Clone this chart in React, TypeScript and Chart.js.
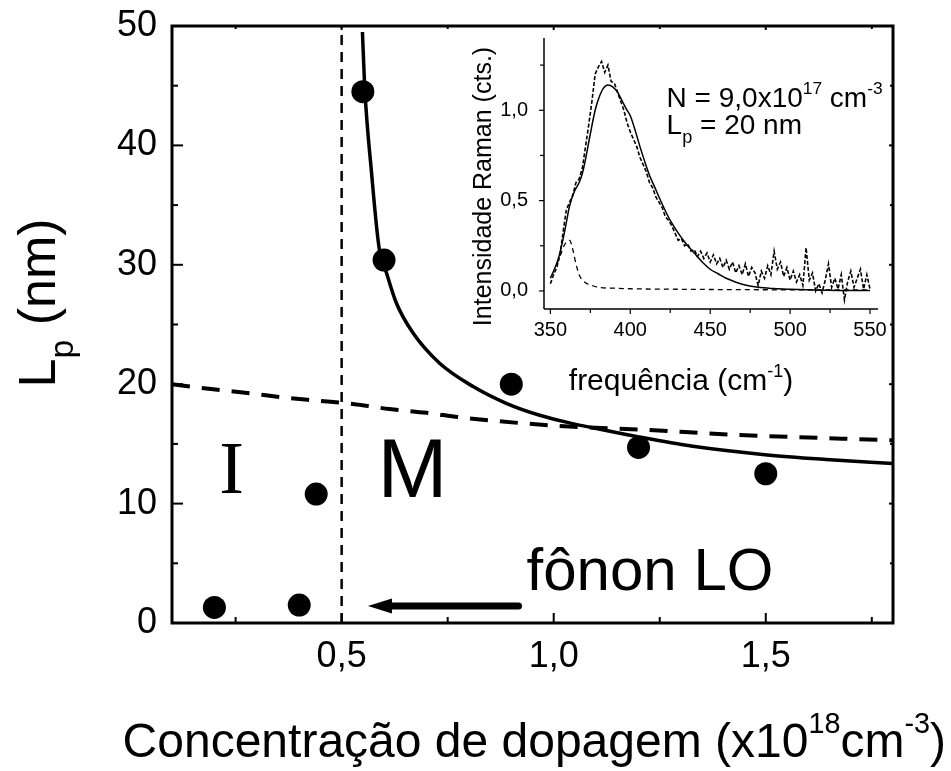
import { useEffect, useRef } from 'react';
import { Chart, registerables } from 'chart.js';

Chart.register(...registerables);

const SANS = '"Liberation Sans", Arial, sans-serif';
const SERIF = '"Liberation Serif", "Times New Roman", serif';

// ---------- Main chart data ----------
const dopingConc = [0.2, 0.4, 0.44, 0.55, 0.6, 0.9, 1.2, 1.5];
const lpValues = [1.3, 1.5, 10.8, 44.5, 30.4, 20.0, 14.7, 12.5];

const fitConc = [0.549, 0.555, 0.57, 0.588, 0.606, 0.629, 0.668, 0.731, 0.81, 0.888, 0.967, 1.045, 1.092, 1.198, 1.328, 1.498, 1.642, 1.8];
const fitLp = [49.5, 44.5, 37.9, 31.5, 29.3, 26.8, 24.3, 21.75, 19.8, 18.4, 17.4, 16.7, 16.35, 15.6, 14.8, 14.1, 13.7, 13.35];

const mottConc = [0.1, 0.197, 0.284, 0.366, 0.449, 0.527, 0.613, 0.7, 0.786, 1.014, 1.202, 1.438, 1.8];
const mottLp = [20.0, 19.57, 19.24, 18.87, 18.6, 18.34, 17.92, 17.6, 17.2, 16.5, 16.2, 15.75, 15.3];

const boundaryConc = [0.5, 0.5];
const boundaryLp = [0, 50];

const xTickValues = [0.5, 1.0, 1.5];
const xMinorValues = [0.25, 0.75, 1.25, 1.75];
const yTickValues = [0, 10, 20, 30, 40, 50];
const yMinorValues = [5, 15, 25, 35, 45];

// annotations (data units)
const arrowFrom = [0.917, 1.42];
const arrowTo = [0.562, 1.42];
const labelI = [0.2406, 10.9];
const labelM = [0.667, 10.58];
const labelLO = [0.936, 2.76];

// ---------- Inset data ----------
const expFreq = [350, 352, 354, 356, 358, 360, 362, 364, 366, 368, 370, 372, 374, 376, 378, 380, 382, 384, 386, 388, 390, 392, 394, 396, 398, 400, 402, 404, 406, 408, 410, 412, 414, 416, 418, 420, 422, 424, 426, 428, 430, 432, 434, 436, 438, 440, 442, 444, 446, 448, 450, 452, 454, 456, 458, 460, 462, 464, 466, 468, 470, 472, 474, 476, 478, 480, 482, 484, 486, 488, 490, 492, 494, 496, 498, 500, 502, 504, 506, 508, 510, 512, 514, 516, 518, 520, 522, 524, 526, 528, 530, 532, 534, 536, 538, 540, 542, 544, 546, 548, 550];
const expInt = [0.04, 0.09, 0.13, 0.2, 0.33, 0.45, 0.49, 0.53, 0.6, 0.62, 0.68, 0.8, 0.92, 1.05, 1.2, 1.24, 1.27, 1.21, 1.25, 1.16, 1.15, 1.1, 1.05, 1.0, 0.93, 0.88, 0.84, 0.8, 0.74, 0.7, 0.66, 0.6, 0.57, 0.52, 0.49, 0.46, 0.41, 0.39, 0.36, 0.32, 0.28, 0.29, 0.25, 0.26, 0.22, 0.23, 0.19, 0.22, 0.18, 0.21, 0.16, 0.2, 0.15, 0.18, 0.13, 0.17, 0.12, 0.16, 0.1, 0.14, 0.09, 0.15, 0.08, 0.13, 0.1, 0.03, 0.11, 0.07, 0.14, 0.09, 0.22, 0.12, 0.16, 0.08, 0.13, 0.06, 0.11, 0.05, 0.09, 0.03, 0.24, 0.06, 0.1, 0.0, 0.04, -0.01, 0.06, 0.15, 0.02, 0.07, 0.01, 0.09, -0.05, 0.05, 0.11, 0.02, 0.07, 0.12, 0.01, 0.09, 0.01];

const fitFreq = [350, 352, 355, 358, 360, 362, 365, 368, 370, 372, 375, 378, 380, 383, 386, 389, 392, 395, 398, 400, 403, 406, 410, 412, 415, 420, 425, 430, 435, 440, 445, 450, 455, 460, 465, 470, 480, 490, 500, 510, 520, 535, 550];
const fitInt = [0.07, 0.11, 0.18, 0.29, 0.38, 0.47, 0.55, 0.6, 0.65, 0.73, 0.87, 1.0, 1.06, 1.12, 1.14, 1.13, 1.1, 1.05, 1.0, 0.97, 0.89, 0.8, 0.69, 0.64, 0.58, 0.48, 0.39, 0.32, 0.26, 0.21, 0.16, 0.12, 0.095, 0.07, 0.052, 0.037, 0.02, 0.013, 0.009, 0.006, 0.004, 0.002, 0.002];

const loFreq = [354, 356, 358, 360, 362, 364, 366, 368, 370, 373, 376, 380, 390, 400, 420, 450, 500, 550];
const loInt = [0.15, 0.19, 0.24, 0.27, 0.28, 0.23, 0.15, 0.09, 0.06, 0.04, 0.03, 0.02, 0.015, 0.012, 0.01, 0.008, 0.006, 0.005];

const insetXTicks = [350, 400, 450, 500, 550];
const insetXMinor = [375, 425, 475, 525];
const insetYTicks = [0, 0.5, 1.0];
const insetYMinor = [0.25, 0.75, 1.25];

type Seg = { t: string; k?: 'sup' | 'sub' };

function drawRich(
  ctx: CanvasRenderingContext2D,
  segs: Seg[],
  x: number,
  y: number,
  size: number,
  align: 'left' | 'center' | 'right',
  small = 0.6,
  raise = 0.45,
  drop = 0.3,
) {
  const fontFor = (s: Seg) => `${s.k ? size * small : size}px ${SANS}`;
  const widths = segs.map((s) => {
    ctx.font = fontFor(s);
    return ctx.measureText(s.t).width;
  });
  const total = widths.reduce((a, b) => a + b, 0);
  let cx = align === 'center' ? x - total / 2 : align === 'right' ? x - total : x;
  ctx.textAlign = 'left';
  ctx.textBaseline = 'alphabetic';
  segs.forEach((s, i) => {
    ctx.font = fontFor(s);
    const dy = s.k === 'sup' ? -size * raise : s.k === 'sub' ? size * drop : 0;
    ctx.fillText(s.t, cx, y + dy);
    cx += widths[i];
  });
}

function line(ctx: CanvasRenderingContext2D, x1: number, y1: number, x2: number, y2: number) {
  ctx.beginPath();
  ctx.moveTo(x1, y1);
  ctx.lineTo(x2, y2);
  ctx.stroke();
}

const pts = (xs: number[], ys: number[]) => xs.map((x, i) => ({ x, y: ys[i] }));

// Remove the scales' own label paddings so the layout padding alone positions the plot area.
const noScalePadding = (s: any) => {
  s.paddingTop = 0;
  s.paddingBottom = 0;
  s.paddingLeft = 0;
  s.paddingRight = 0;
};

// Adjust layout padding so that the plot area lands on the wanted box.
function placeArea(chart: any, opts: any, target: { left: number; top: number; right: number; bottom: number }) {
  for (let k = 0; k < 4; k++) {
    const a = chart.chartArea;
    if (!a) break;
    const p = opts.layout.padding;
    const dTop = target.top - a.top;
    const dRight = a.right - target.right;
    const dBottom = a.bottom - target.bottom;
    const dLeft = target.left - a.left;
    if (Math.abs(dTop) < 0.5 && Math.abs(dRight) < 0.5 && Math.abs(dBottom) < 0.5 && Math.abs(dLeft) < 0.5) break;
    opts.layout.padding = {
      top: Math.max(0, p.top + dTop),
      right: Math.max(0, p.right + dRight),
      bottom: Math.max(0, p.bottom + dBottom),
      left: Math.max(0, p.left + dLeft),
    };
    chart.options = opts;
    chart.update();
  }
}

export default function App() {
  const mainRef = useRef<HTMLCanvasElement>(null);
  const insetRef = useRef<HTMLCanvasElement>(null);

  useEffect(() => {
    const mainFrame = {
      id: 'mainFrame',
      afterDatasetsDraw(chart: any) {
        const { ctx, chartArea: a } = chart;
        const xs = chart.scales.x;
        const ys = chart.scales.y;
        ctx.save();
        ctx.strokeStyle = '#000';
        ctx.lineWidth = 3;
        ctx.strokeRect(a.left, a.top, a.right - a.left, a.bottom - a.top);
        ctx.lineWidth = 2;
        xTickValues.forEach((v) => {
          const p = xs.getPixelForValue(v);
          line(ctx, p, a.bottom, p, a.bottom - 10);
          line(ctx, p, a.top, p, a.top + 4);
        });
        xMinorValues.forEach((v) => {
          const p = xs.getPixelForValue(v);
          line(ctx, p, a.bottom, p, a.bottom - 6);
          line(ctx, p, a.top, p, a.top + 3);
        });
        yTickValues.forEach((v) => {
          const p = ys.getPixelForValue(v);
          line(ctx, a.left, p, a.left + 11, p);
          line(ctx, a.right, p, a.right - 4, p);
        });
        yMinorValues.forEach((v) => {
          const p = ys.getPixelForValue(v);
          line(ctx, a.left, p, a.left + 6, p);
          line(ctx, a.right, p, a.right - 3, p);
        });

        // arrow
        const x1 = xs.getPixelForValue(arrowFrom[0]);
        const y1 = ys.getPixelForValue(arrowFrom[1]);
        const x2 = xs.getPixelForValue(arrowTo[0]);
        const y2 = ys.getPixelForValue(arrowTo[1]);
        ctx.lineWidth = 7;
        ctx.lineCap = 'round';
        line(ctx, x1, y1, x2 + 20, y2);
        ctx.lineCap = 'butt';
        ctx.fillStyle = '#000';
        ctx.beginPath();
        ctx.moveTo(x2, y2);
        ctx.lineTo(x2 + 24, y2 - 7.5);
        ctx.lineTo(x2 + 24, y2 + 7.5);
        ctx.closePath();
        ctx.fill();

        // texts inside plot
        ctx.fillStyle = '#000';
        ctx.textBaseline = 'alphabetic';
        ctx.textAlign = 'center';
        ctx.font = `74px ${SERIF}`;
        ctx.fillText('I', xs.getPixelForValue(labelI[0]), ys.getPixelForValue(labelI[1]));
        ctx.font = `84px ${SANS}`;
        ctx.fillText('M', xs.getPixelForValue(labelM[0]), ys.getPixelForValue(labelM[1]));
        ctx.textAlign = 'left';
        ctx.font = `60px ${SANS}`;
        ctx.fillText('fônon LO', xs.getPixelForValue(labelLO[0]), ys.getPixelForValue(labelLO[1]));

        // axis titles
        drawRich(
          ctx,
          [{ t: 'Concentração de dopagem (x10' }, { t: '18', k: 'sup' }, { t: 'cm' }, { t: '-3', k: 'sup' }, { t: ')' }],
          946,
          757,
          48,
          'right',
          0.6,
          0.5,
        );
        ctx.save();
        ctx.translate(55, 303);
        ctx.rotate(-Math.PI / 2);
        drawRich(ctx, [{ t: 'L' }, { t: 'p', k: 'sub' }, { t: ' (nm)' }], 0, 0, 52, 'center', 0.65, 0.45, 0.35);
        ctx.restore();
        ctx.restore();
      },
    };

    const mainOptions: any = {
      responsive: false,
      animation: false,
      devicePixelRatio: 1,
      layout: { autoPadding: false, padding: { top: 26, right: 58, left: 0, bottom: 0 } },
      plugins: { legend: { display: false }, tooltip: { enabled: false }, title: { display: false } },
      scales: {
        x: {
          type: 'linear',
          min: 0.1,
          max: 1.8,
          grid: { display: false, drawTicks: false },
          border: { display: false },
          afterBuildTicks: (s: any) => {
            s.ticks = xTickValues.map((v) => ({ value: v }));
          },
          afterFit: (s: any) => {
            s.height = 148;
            noScalePadding(s);
          },
          ticks: {
            font: { family: SANS, size: 36 },
            color: '#000',
            padding: 12,
            maxRotation: 0,
            autoSkip: false,
            callback: (v: any) => Number(v).toFixed(1).replace('.', ','),
          },
        },
        y: {
          type: 'linear',
          min: 0,
          max: 50,
          grid: { display: false, drawTicks: false },
          border: { display: false },
          afterBuildTicks: (s: any) => {
            s.ticks = yTickValues.map((v) => ({ value: v }));
          },
          afterFit: (s: any) => {
            s.width = 172;
            noScalePadding(s);
          },
          ticks: {
            font: { family: SANS, size: 36 },
            color: '#000',
            padding: 15,
            autoSkip: false,
            callback: (v: any) => String(v),
          },
        },
      },
    };

    const main = new Chart(mainRef.current as HTMLCanvasElement, {
      type: 'line',
      data: {
        datasets: [
          {
            label: 'pontos',
            data: pts(dopingConc, lpValues),
            showLine: false,
            pointRadius: 11.5,
            pointBackgroundColor: '#000',
            pointBorderWidth: 0,
            borderColor: '#000',
          },
          {
            label: 'ajuste',
            data: pts(fitConc, fitLp),
            borderColor: '#000',
            borderWidth: 3.5,
            pointRadius: 0,
            cubicInterpolationMode: 'monotone',
            fill: false,
          },
          {
            label: 'mott',
            data: pts(mottConc, mottLp),
            borderColor: '#000',
            borderWidth: 4,
            borderDash: [18, 12],
            pointRadius: 0,
            cubicInterpolationMode: 'monotone',
            fill: false,
          },
          {
            label: 'limite',
            data: pts(boundaryConc, boundaryLp),
            borderColor: '#000',
            borderWidth: 2.5,
            borderDash: [10, 7],
            pointRadius: 0,
            fill: false,
          },
        ],
      } as any,
      options: mainOptions,
      plugins: [mainFrame],
    });
    placeArea(main, mainOptions, { left: 172, top: 26, right: 893, bottom: 623 });

    const insetFrame = {
      id: 'insetFrame',
      afterDatasetsDraw(chart: any) {
        const { ctx, chartArea: a } = chart;
        const xs = chart.scales.x;
        const ys = chart.scales.y;
        ctx.save();
        ctx.strokeStyle = '#000';
        ctx.lineWidth = 1.5;
        line(ctx, a.left, a.top, a.left, a.bottom);
        line(ctx, a.left, a.bottom, a.right, a.bottom);
        ctx.lineWidth = 1.2;
        insetXTicks.forEach((v) => {
          const p = xs.getPixelForValue(v);
          line(ctx, p, a.bottom, p, a.bottom + 5);
        });
        insetXMinor.forEach((v) => {
          const p = xs.getPixelForValue(v);
          line(ctx, p, a.bottom, p, a.bottom + 4);
        });
        insetYTicks.forEach((v) => {
          const p = ys.getPixelForValue(v);
          line(ctx, a.left, p, a.left - 5, p);
        });
        insetYMinor.forEach((v) => {
          const p = ys.getPixelForValue(v);
          line(ctx, a.left, p, a.left - 4, p);
        });
        ctx.fillStyle = '#000';
        const tx = xs.getPixelForValue(422.7);
        drawRich(
          ctx,
          [{ t: 'N = 9,0x10' }, { t: '17', k: 'sup' }, { t: ' cm' }, { t: '-3', k: 'sup' }],
          tx,
          ys.getPixelForValue(1.019),
          28,
          'left',
          0.62,
          0.45,
        );
        drawRich(ctx, [{ t: 'L' }, { t: 'p', k: 'sub' }, { t: ' = 20 nm' }], tx, ys.getPixelForValue(0.866), 28, 'left', 0.65, 0.45, 0.3);
        drawRich(
          ctx,
          [{ t: 'frequência (cm' }, { t: '-1', k: 'sup' }, { t: ')' }],
          (a.left + a.right) / 2 - 30,
          a.bottom + 81,
          30,
          'center',
          0.6,
          0.45,
        );
        ctx.save();
        ctx.translate(a.left - 53, (a.top + a.bottom) / 2 + 13);
        ctx.rotate(-Math.PI / 2);
        drawRich(ctx, [{ t: 'Intensidade Raman (cts.)' }], 0, 0, 25, 'center');
        ctx.restore();
        ctx.restore();
      },
    };

    const insetOptions: any = {
      responsive: false,
      animation: false,
      devicePixelRatio: 1,
      layout: { autoPadding: false, padding: { top: 18, right: 12, left: 0, bottom: 0 } },
      plugins: { legend: { display: false }, tooltip: { enabled: false }, title: { display: false } },
      scales: {
        x: {
          type: 'linear',
          min: 346,
          max: 555,
          grid: { display: false, drawTicks: false },
          border: { display: false },
          afterBuildTicks: (s: any) => {
            s.ticks = insetXTicks.map((v) => ({ value: v }));
          },
          afterFit: (s: any) => {
            s.height = 111;
            noScalePadding(s);
          },
          ticks: {
            font: { family: SANS, size: 20 },
            color: '#000',
            padding: 9,
            maxRotation: 0,
            autoSkip: false,
            callback: (v: any) => String(v),
          },
        },
        y: {
          type: 'linear',
          min: -0.1,
          max: 1.4,
          grid: { display: false, drawTicks: false },
          border: { display: false },
          afterBuildTicks: (s: any) => {
            s.ticks = insetYTicks.map((v) => ({ value: v }));
          },
          afterFit: (s: any) => {
            s.width = 94;
            noScalePadding(s);
          },
          ticks: {
            font: { family: SANS, size: 20 },
            color: '#000',
            padding: 16,
            autoSkip: false,
            callback: (v: any) => Number(v).toFixed(1).replace('.', ','),
          },
        },
      },
    };

    const inset = new Chart(insetRef.current as HTMLCanvasElement, {
      type: 'line',
      data: {
        datasets: [
          {
            label: 'experimental',
            data: pts(expFreq, expInt),
            borderColor: '#000',
            borderWidth: 1.6,
            borderDash: [4, 2],
            pointRadius: 0,
            tension: 0,
            fill: false,
          },
          {
            label: 'ajuste',
            data: pts(fitFreq, fitInt),
            borderColor: '#000',
            borderWidth: 1.5,
            pointRadius: 0,
            cubicInterpolationMode: 'monotone',
            fill: false,
          },
          {
            label: 'LO',
            data: pts(loFreq, loInt),
            borderColor: '#000',
            borderWidth: 1.3,
            borderDash: [5, 4],
            pointRadius: 0,
            cubicInterpolationMode: 'monotone',
            fill: false,
          },
        ],
      } as any,
      options: insetOptions,
      plugins: [insetFrame],
    });
    placeArea(inset, insetOptions, { left: 94.3, top: 18, right: 427.7, bottom: 289.3 });

    return () => {
      main.destroy();
      inset.destroy();
    };
  }, []);

  return (
    <div style={{ position: 'absolute', left: 0, top: 0, width: 951, height: 771, background: '#fff' }}>
      <canvas
        ref={mainRef}
        width={951}
        height={771}
        style={{ position: 'absolute', left: 0, top: 0, width: 951, height: 771, display: 'block' }}
      />
      <canvas
        ref={insetRef}
        width={440}
        height={400}
        style={{ position: 'absolute', left: 450, top: 20, width: 440, height: 400, display: 'block' }}
      />
    </div>
  );
}
